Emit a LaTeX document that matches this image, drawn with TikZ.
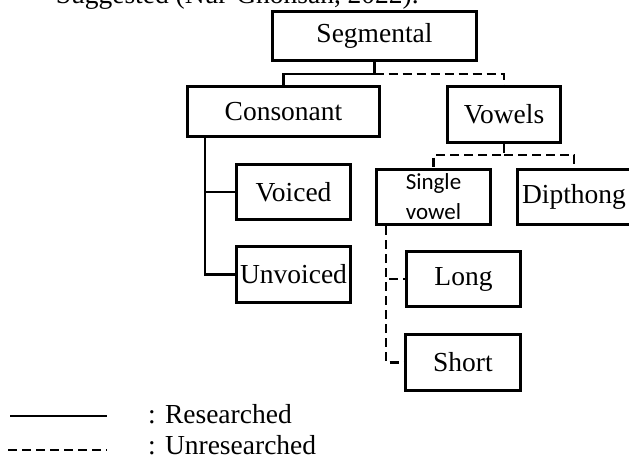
\documentclass[tikz,border=0pt]{standalone}
\usepackage{fontspec}
\setmainfont{Liberation Serif}
\newfontfamily\carlito{Carlito}
\usetikzlibrary{positioning}
\tikzstyle{unit} = [draw, line width=2.8pt, inner sep=0pt, minimum width=114.2pt, minimum height=55.2pt, font=\fontsize{27.5}{30}\selectfont]
\tikzstyle{researched} = [line width=2.8pt]
\tikzstyle{unresearched} = [line width=2.8pt, dash pattern=on 9pt off 5pt]
\tikzstyle{legendtext} = [anchor=base west, inner sep=0pt, font=\fontsize{27.5}{30}\selectfont]

\begin{document}
\begin{tikzpicture}[x=1pt, y=-1pt]
\clip (0,0) rectangle (629,459);

% caption line cut by the page edge
\node[anchor=base east, inner sep=0pt, font=\fontsize{27.5}{30}\selectfont] (caption) at (419,3) {Suggested (Nur-Ghohsan, 2022).};

% Units
\node[unit, minimum width=204.2pt, minimum height=49.2pt] (seg) at (374.5,36) {Segmental};
\node[unit, minimum width=192.2pt, minimum height=50.2pt] (cons) at (283.5,111.5) {Consonant};
\node[unit, minimum width=113.2pt, minimum height=56.2pt] (vow) at (504,114.5) {Vowels};
\node[unit] (voiced) at (293.5,192) {Voiced};
\node[unit, minimum height=56.2pt] (unvoiced) at (293.5,274.5) {Unvoiced};
\node[unit, align=center, font=\carlito\fontsize{23}{30}\selectfont] (single) at (433.5,197) {Single\\vowel};
\node[unit, minimum width=113.2pt] (dip) at (574,197) {Dipthong};
\node[unit] (long) at (463.5,279) {Long};
\node[unit, minimum width=115.2pt, minimum height=56.2pt] (short) at (463,362.5) {Short};

% Researched branches
\draw[researched] (seg.south) -- ++(0,12) -| (cons.north);
\draw[researched] ([xshift=19pt]cons.south west) |- (voiced.west);
\draw[researched] ([xshift=19pt]cons.south west) |- (unvoiced.west);

% Unresearched branches
\draw[unresearched] (seg.south) ++(0,12) -| (vow.north);
\draw[unresearched] (vow.south) -- ++(0,11) -| (single.north);
\draw[unresearched] (vow.south) ++(0,11) -| (dip.north);
\draw[unresearched] ([xshift=11pt]single.south west) |- (long.west);
\draw[unresearched] ([xshift=11pt]single.south west) |- (short.west);

% Legend
\coordinate (resA) at (10,416);
\coordinate (resB) at (107,416);
\coordinate (unresA) at (8,450);
\coordinate (unresB) at (107,450);
\draw[researched, line width=2.2pt] (resA) -- (resB);
\draw[unresearched, line width=2.2pt] (unresA) -- (unresB);
\node[legendtext] (reslabel) at (148,423) {: Researched};
\node[legendtext] (unreslabel) at (148,454) {: Unresearched};
\end{tikzpicture}
\end{document}
